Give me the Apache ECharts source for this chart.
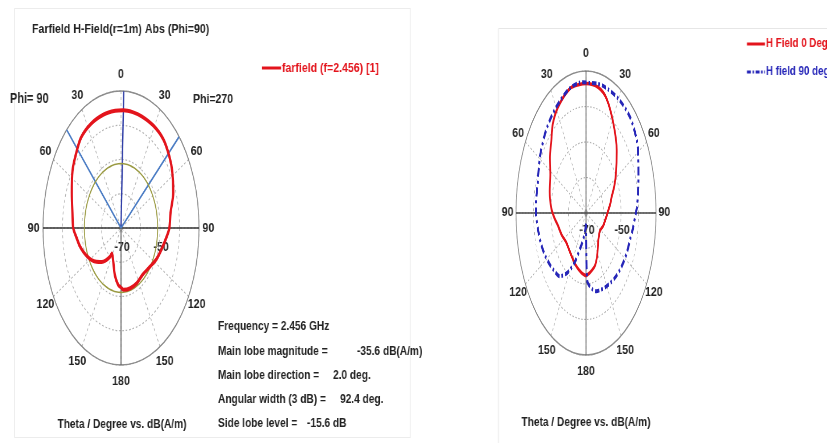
<!DOCTYPE html>
<html>
<head>
<meta charset="utf-8">
<script src="https://cdn.jsdelivr.net/npm/echarts@6/dist/echarts.min.js"></script>
<style>
  html, body { margin: 0; padding: 0; background: #fff; }
  #page { position: relative; width: 827px; height: 443px; overflow: hidden; background: #fff; }
  #labels { position: absolute; left: 0; top: 0; height: 443px; z-index: 0; transform-origin: 0 0; }
  .polar { position: absolute; width: 300px; height: 300px; z-index: 1; transform-origin: 50% 50%; }
</style>
</head>
<body>
<div id="page">
  <div id="labels"></div>
  <div id="polarA" class="polar"></div>
  <div id="polarB" class="polar"></div>
</div>
<script>
// ---- Farfield H-Field (r=1m), phi = 90 cut: theta [deg] vs dB(A/m) ----
const thetaA  = [-180,-175,-167,-158,-148,-146,-140,-135,-128,-122,-116,-110,-104,-97,-90,-80,-68,-56,-47,-38,-27,-15,-5,2,10,18,29,40,50,58,69,80,90,96,106,116,127,140,153,165,176,180];
const hFieldA = [-52.7,-53.3,-55.9,-59.4,-61.2,-59.9,-57.6,-56.0,-54.0,-52.3,-50.9,-49.5,-48.2,-47.0,-45.5,-44.7,-42.8,-40.0,-38.4,-36.6,-35.9,-35.7,-35.65,-35.6,-35.65,-35.7,-35.8,-36.2,-37.6,-39.0,-41.3,-44.2,-45.2,-46.4,-48.2,-49.6,-51.3,-52.4,-52.0,-51.8,-51.9,-52.7];

// ---- H field cuts at 0 deg and 90 deg ----
const thetaB0  = [-180,-171,-160,-150,-138,-126,-114,-102,-94,-86,-74,-62,-53,-44,-37,-28,-15,-6,0,11,20,32,45,57,65,73,80,87,94,102,110,122,131,140,152,161,172,180];
const hField0  = [-52.3,-53.0,-54.0,-55.0,-55.8,-56.0,-54.8,-53.5,-51.8,-50.1,-48.4,-46.9,-44.2,-41.5,-38.5,-36.1,-33.8,-33.6,-33.5,-33.9,-35.7,-40.4,-45.2,-49.6,-52.2,-54.7,-56.0,-57.3,-58.2,-59.0,-59.5,-60.6,-60.2,-59.2,-56.4,-54.3,-53.1,-52.3];
const thetaB90 = [-180,-173,-167,-161,-155,-148,-140,-132,-125,-117,-109,-100,-91,-82,-74,-65,-56,-43,-30,-15,-3,3,10,17,30,43,55,62,70,78,87,92,99,106,115,123,130,138,145,153,159,165,171,178,180];
const hField90 = [-67.0,-64.5,-62.0,-59.2,-54.6,-50.3,-46.7,-45.6,-44.7,-43.7,-42.9,-42.2,-41.5,-41.3,-41.2,-40.2,-38.9,-37.2,-35.7,-33.7,-33.1,-33.3,-33.0,-32.9,-32.9,-33.1,-34.5,-36.2,-38.1,-39.5,-40.9,-41.9,-42.8,-43.7,-44.1,-44.5,-44.9,-45.4,-45.9,-46.4,-46.8,-47.2,-48.4,-51.0,-67.0];

// ---- axis ticks and summary values ----
const angleTicks  = [0, 30, 60, 90, 120, 150, 180, -150, -120, -90, -60, -30];
const radiusTicks = [-70, -50];
const frequencyGHz = 2.456;
const mainLobeMag  = -35.6;   // dB(A/m)
const mainLobeDir  = 2.0;     // deg
const beamWidth3dB = 92.4;    // deg
const sideLobeRel  = -15.6;   // dB

// ---- layout: each pattern is an ellipse (horizontal radius rx, vertical radius ry) ----
const plotA = { cx: 121, cy: 228,   rx: 78, ry: 137 };
const plotB = { cx: 586, cy: 212.5, rx: 70, ry: 142 };
const TS = 0.78;   // horizontal condensing of the text layer
const FONT = '"Liberation Sans",Arial,sans-serif';
const RED = '#e3141c', BLUE = '#2626b8', INK = '#222';

function placeBox(id, p) {
  const el = document.getElementById(id);
  el.style.left = (p.cx - 150) + 'px';
  el.style.top = (p.cy - 150) + 'px';
  el.style.transform = 'scaleX(' + (p.rx / p.ry) + ')';
  return el;
}

function pairs(theta, values) { return theta.map((t, i) => [values[i], t]); }

function straight(data, color, width, dash) {
  return { type: 'line', coordinateSystem: 'polar', data, symbol: 'none', silent: true,
           lineStyle: { color, width, type: dash || 'solid' }, z: 1 };
}

function polarBase(ry, series) {
  return {
    animation: false,
    polar: { center: ['50%', '50%'], radius: ry },
    angleAxis: {
      type: 'value', min: -180, max: 180, interval: 30, startAngle: -90, clockwise: true,
      axisLine: { show: true, lineStyle: { color: '#8c8c8c', width: 1.6 } },
      axisTick: { show: false }, axisLabel: { show: false },
      splitLine: { show: true, lineStyle: { color: '#b4b4b4', width: 1.2, type: [3, 3] } }
    },
    radiusAxis: {
      type: 'value', min: -70, max: -30, interval: 10,
      axisLine: { show: false }, axisTick: { show: false }, axisLabel: { show: false },
      splitLine: { show: true, lineStyle: { color: '#b4b4b4', width: 1.2, type: [3, 3] } }
    },
    series
  };
}

// side lobe reference ring (constant level around the full circle)
const sideLobeLevel = +(mainLobeMag + sideLobeRel).toFixed(1);
const ringAngles = [];
for (let a = -180; a <= 180; a += 4) ringAngles.push(a);

// ---- left pattern ----
const chartA = echarts.init(placeBox('polarA', plotA));
chartA.setOption(polarBase(plotA.ry, [
  straight([[-30, -90], [-30, 90]], '#333', 1.4),
  straight([[-70, 0], [-30, 180]], '#555', 1.6),
  straight([[-70, mainLobeDir], [-30, mainLobeDir]], '#3240a8', 2.4),
  straight([[-70, mainLobeDir - beamWidth3dB / 2], [-30, mainLobeDir - beamWidth3dB / 2]], '#4b7cc4', 2.2),
  straight([[-70, mainLobeDir + beamWidth3dB / 2], [-30, mainLobeDir + beamWidth3dB / 2]], '#4b7cc4', 2.2),
  { type: 'line', coordinateSystem: 'polar', symbol: 'none', silent: true, smooth: 0.4,
    data: ringAngles.map(a => [sideLobeLevel, a]),
    lineStyle: { color: '#9a9a42', width: 1.7 }, z: 1 },
  { type: 'line', name: 'farfield (f=' + frequencyGHz + ') [1]', coordinateSystem: 'polar',
    symbol: 'none', smooth: 0.3, data: pairs(thetaA, hFieldA),
    lineStyle: { color: RED, width: 4 }, z: 3 }
]));

// ---- right pattern ----
const chartB = echarts.init(placeBox('polarB', plotB));
chartB.setOption(polarBase(plotB.ry, [
  straight([[-30, -90], [-30, 90]], '#444', 1.4),
  straight([[-30, 0], [-30, 180]], '#555', 1.6),
  { type: 'line', name: 'H Field 0 Deg', coordinateSystem: 'polar', symbol: 'none', smooth: 0.3,
    data: pairs(thetaB0, hField0), lineStyle: { color: RED, width: 3.6 }, z: 3 },
  { type: 'line', name: 'H field 90 deg', coordinateSystem: 'polar', symbol: 'none', smooth: 0.3,
    data: pairs(thetaB90, hField90), lineStyle: { color: BLUE, width: 4, type: [9, 4, 3, 4] }, z: 4 }
]));

// ---- text layer: condensed horizontally by TS, so page x is divided by TS ----
const X = x => x / TS;
function txt(x, y, s, o) {
  o = o || {};
  return { type: 'text', x: X(x), y, silent: true, z: 10,
    style: { text: s, fill: o.color || INK, fontSize: o.size || 13, fontWeight: o.weight || 'bold',
             fontFamily: FONT, textAlign: o.align || 'left', textVerticalAlign: 'middle',
             align: o.align || 'left', verticalAlign: 'middle' } };
}
function seg(x1, y1, x2, y2, color, width, dash) {
  return { type: 'line', silent: true, z: 10, shape: { x1: X(x1), y1, x2: X(x2), y2 },
           style: { stroke: color, lineWidth: width, lineDash: dash || null } };
}
function frame(x, y, w, h, color) {
  return { type: 'rect', silent: true, shape: { x: X(x), y, width: w / TS, height: h },
           style: { fill: 'none', stroke: color, lineWidth: 1 } };
}
function angleLabels(p, k) {
  return angleTicks.map(a => {
    const r = a * Math.PI / 180;
    return txt(p.cx + p.rx * k * Math.sin(r), p.cy - p.ry * k * Math.cos(r), String(Math.abs(a)),
               { size: 13.5, align: 'center' });
  });
}
function radiusLabels(p, dy) {
  return radiusTicks.map(v => txt(p.cx + 1 + p.rx * (v + 70) / 40, p.cy + dy, String(v),
                                  { size: 13.5, align: 'center' }));
}

const g = [
  frame(14.5, 8.5, 396, 429, '#ececec'),
  frame(498.5, 28.5, 340, 430, '#e6e6e6'),
  txt(32, 29, 'Farfield H-Field(r=1m) Abs (Phi=90)', { size: 13.6 }),
  txt(10, 99, 'Phi= 90', { size: 14 }),
  txt(193, 99, 'Phi=270', { size: 13.5 }),
  seg(262, 68, 281, 68, RED, 3),
  txt(282, 68, 'farfield (f=' + frequencyGHz + ') [1]', { size: 13.5, color: RED }),
  seg(747, 44, 765, 44, RED, 3),
  txt(766, 44, 'H Field 0 Deg', { size: 12.5, color: RED }),
  seg(747, 72, 765, 72, BLUE, 3, [5, 2, 2, 2]),
  txt(766, 72, 'H field 90 deg', { size: 12.5, color: BLUE }),
  txt(218, 326, 'Frequency = ' + frequencyGHz + ' GHz'),
  txt(218, 351.5, 'Main lobe magnitude ='),
  txt(357, 351.5, mainLobeMag.toFixed(1) + ' dB(A/m)'),
  txt(218, 375.5, 'Main lobe direction ='),
  txt(333, 375.5, mainLobeDir.toFixed(1) + ' deg.'),
  txt(218, 399, 'Angular width (3 dB) ='),
  txt(340, 399, beamWidth3dB.toFixed(1) + ' deg.'),
  txt(218, 423, 'Side lobe level ='),
  txt(307, 423, sideLobeRel.toFixed(1) + ' dB'),
  txt(plotA.cx + 1, 424, 'Theta / Degree vs. dB(A/m)', { align: 'center' }),
  txt(plotB.cx, 422, 'Theta / Degree vs. dB(A/m)', { align: 'center' })
].concat(angleLabels(plotA, 1.12), angleLabels(plotB, 1.12),
         radiusLabels(plotA, 19), radiusLabels(plotB, 18));

const labelBox = document.getElementById('labels');
labelBox.style.width = (827 / TS) + 'px';
labelBox.style.transform = 'scaleX(' + TS + ')';
const labels = echarts.init(labelBox);
labels.setOption({ animation: false, graphic: g });
</script>
</body>
</html>
